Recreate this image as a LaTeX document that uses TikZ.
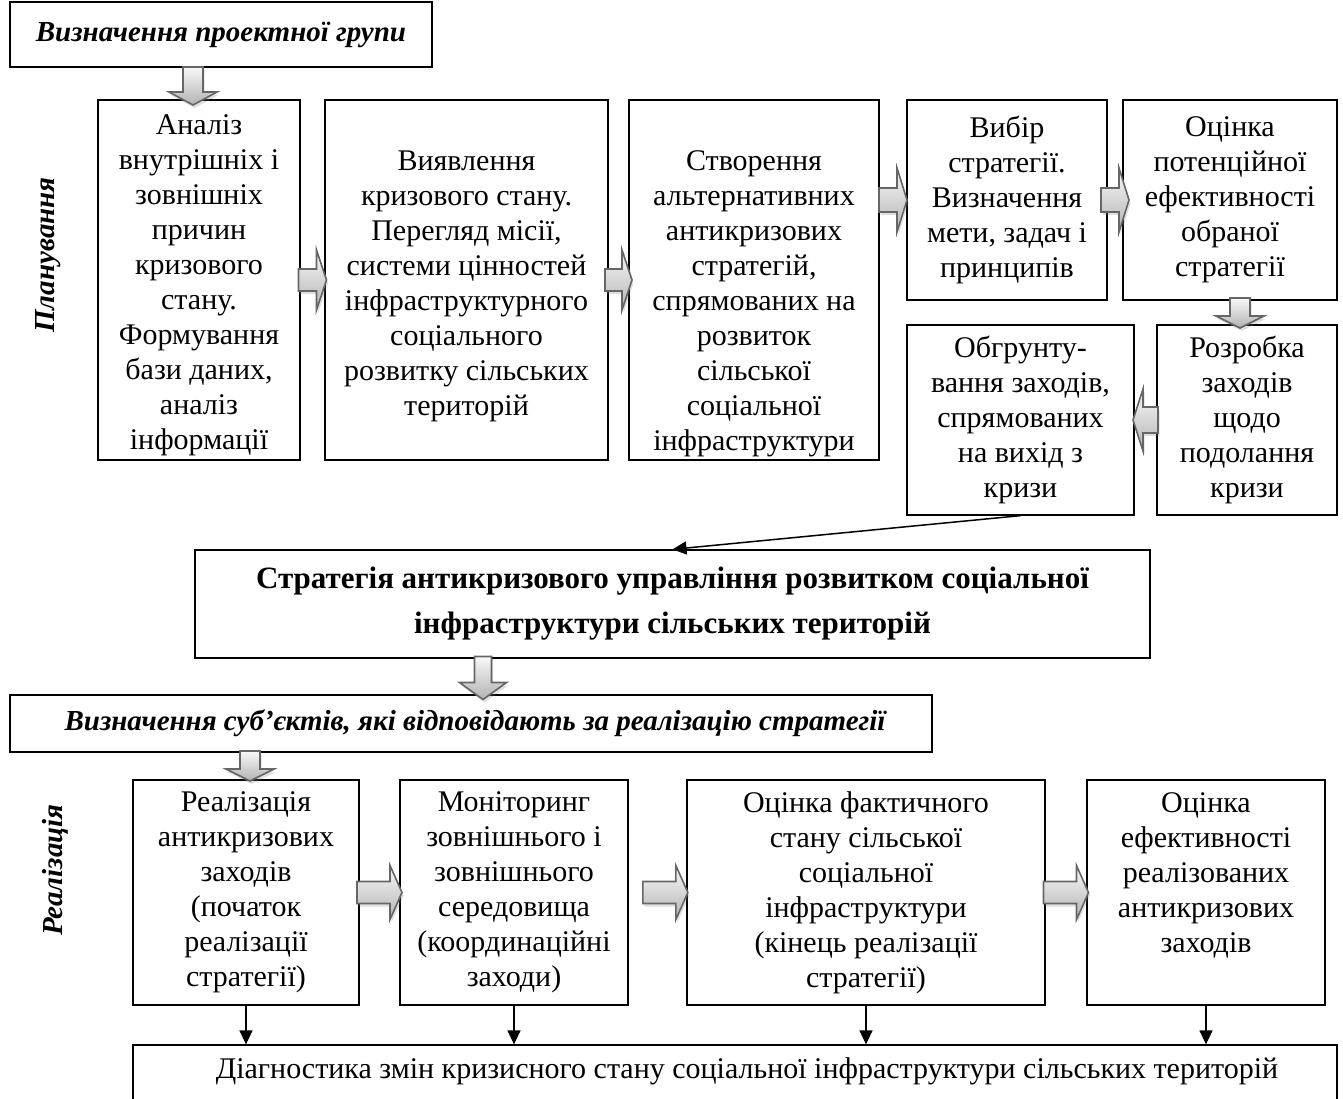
\documentclass[tikz,border=0pt]{standalone}
\usepackage{fontspec}
\setmainfont{Liberation Serif}
\usetikzlibrary{calc,shadows,arrows.meta}
\newcommand\mkbox[5]{%
  \pgfmathsetmacro\bxw{#4-#2}\pgfmathsetmacro\bxh{#5-#3}%
  \node[box, minimum width=\bxw pt, minimum height=\bxh pt] (#1) at ({(#2+#4)/2},{(#3+#5)/2}) {};}
% block arrow: #1 centre, #2 angle, #3 length, #4 shaft half-width, #5 head half-width, #6 head length
\newcommand\blockarr[6]{%
  \begin{scope}[shift={#1}, rotate=#2]
    \draw[barrow] ({-#3/2},{-#4}) -- ({#3/2-#6},{-#4}) -- ({#3/2-#6},{-#5}) -- ({#3/2},0)
      -- ({#3/2-#6},{#5}) -- ({#3/2-#6},{#4}) -- ({-#3/2},{#4}) -- cycle;
  \end{scope}}
\begin{document}
\begin{tikzpicture}[x=1pt,y=-1pt,
  box/.style={draw, line width=1.3pt, inner sep=0pt},
  txt/.style={font=\fontsize{30}{35}\selectfont, align=center, inner sep=0pt},
  btxt/.style={font=\bfseries\fontsize{31}{45}\selectfont, align=center, inner sep=0pt},
  bitxt/.style={font=\bfseries\itshape\fontsize{29}{35}\selectfont, align=center, inner sep=0pt},
  thinarr/.style={line width=1.5pt, -{Triangle[length=14pt,width=13pt]}},
  barrow/.style={draw=gray!80!black, line width=1.6pt, line join=miter, top color=gray!5, bottom color=gray!60,
     drop shadow={shadow xshift=1.5pt, shadow yshift=-3pt, opacity=0.25}},
]
\useasboundingbox (0,0) rectangle (1343,1099);

% boxes
\mkbox{T}{10}{2}{432}{67}
\mkbox{A}{98}{100}{300}{460}
\mkbox{B}{325}{100}{608}{460}
\mkbox{C}{629}{100}{879}{460}
\mkbox{D}{907}{100}{1107}{300}
\mkbox{E}{1123}{100}{1337}{300}
\mkbox{F}{907}{325}{1134}{515}
\mkbox{G}{1157}{325}{1337}{515}
\mkbox{S}{195}{550}{1150}{658}
\mkbox{U}{10}{695}{932}{752}
\mkbox{R1}{133}{780}{359}{1005}
\mkbox{R2}{400}{780}{628}{1005}
\mkbox{R3}{687}{780}{1045}{1005}
\mkbox{R4}{1087}{780}{1325}{1005}
\mkbox{Dg}{133}{1045}{1337}{1115}

% texts
\node[bitxt] (Tt) at (T.center) {Визначення проектної групи};
\node[txt] (At) at ($(A.center)+(0,5)$) {Аналіз\\внутрішніх і\\зовнішніх\\причин\\кризового\\стану.\\Формування\\бази даних,\\аналіз\\інформації};
\node[txt] (Bt) at ($(B.center)+(0,6)$) {Виявлення\\кризового стану.\\Перегляд місії,\\системи цінностей\\інфраструктурного\\соціального\\розвитку сільських\\територій};
\node[txt] (Ct) at ($(C.center)+(0,24)$) {Створення\\альтернативних\\антикризових\\стратегій,\\спрямованих на\\розвиток\\сільської\\соціальної\\інфраструктури};
\node[txt] (Dt) at (D.center) {Вибір\\стратегії.\\Визначення\\мети, задач і\\принципів};
\node[txt] (Et) at (E.center) {Оцінка\\потенційної\\ефективності\\обраної\\стратегії};
\node[txt] (Ft) at (F.center) {Обгрунту-\\вання заходів,\\спрямованих\\на вихід з\\кризи};
\node[txt] (Gt) at (G.center) {Розробка\\заходів\\щодо\\подолання\\кризи};
\node[btxt] (St) at (S.center) {Стратегія антикризового управління розвитком соціальної\\інфраструктури сільських територій};
\node[bitxt] (Ut) at ($(U.center)+(4,0)$) {Визначення суб’єктів, які відповідають за реалізацію стратегії};
\node[txt] (R1t) at (R1.center) {Реалізація\\антикризових\\заходів\\(початок\\реалізації\\стратегії)};
\node[txt] (R2t) at (R2.center) {Моніторинг\\зовнішнього і\\зовнішнього\\середовища\\(координаційні\\заходи)};
\node[txt] (R3t) at (R3.center) {Оцінка фактичного\\стану сільської\\соціальної\\інфраструктури\\(кінець реалізації\\стратегії)};
\node[txt] (R4t) at ($(R4.center)+(0,-17.5)$) {Оцінка\\ефективності\\реалізованих\\антикризових\\заходів};
\node[txt, anchor=north] (Dgt) at ($(Dg.north)+(12,13)$) {Діагностика змін кризисного стану соціальної інфраструктури сільських територій};

% side labels
\node[bitxt, rotate=90] (L1) at (48,255) {Планування};
\node[bitxt, rotate=90] (L2) at (55,870) {Реалізація};

% block arrows
\blockarr{(193,86)}{-90}{38}{10}{24}{13}
\blockarr{($(A.east)!.5!(B.west)$)}{0}{28}{11}{30}{10}
\blockarr{($(B.east)!.5!(C.west)$)}{0}{27}{11}{30}{10}
\blockarr{($(C.east |- D.west)!.5!(D.west)$)}{0}{28}{12}{32}{10}
\blockarr{($(D.east)!.5!(E.west)$)}{0}{28}{12}{32}{10}
\blockarr{($(G.west)!.5!(F.east)$)}{180}{25}{13}{31}{10}
\blockarr{(1240,313)}{-90}{30}{10}{24}{12}
\blockarr{(483,678)}{-90}{43}{8.5}{23.5}{17}
\blockarr{(250,766)}{-90}{30}{10}{24}{12}
\blockarr{($(R1.east)!.5!(R2.west)$)}{0}{45}{11}{27}{12}
\blockarr{($(R3.west)+(-21,0)$)}{0}{45}{11}{27}{12}
\blockarr{($(R3.east)!.5!(R4.west)$)}{0}{45}{11}{27}{12}

% thin arrows
\draw[thinarr] (F.south) -- (S.north);
\draw[thinarr] (R1.south) -- (R1.south |- Dg.north);
\draw[thinarr] (R2.south) -- (R2.south |- Dg.north);
\draw[thinarr] (R3.south) -- (R3.south |- Dg.north);
\draw[thinarr] (R4.south) -- (R4.south |- Dg.north);
\end{tikzpicture}
\end{document}
